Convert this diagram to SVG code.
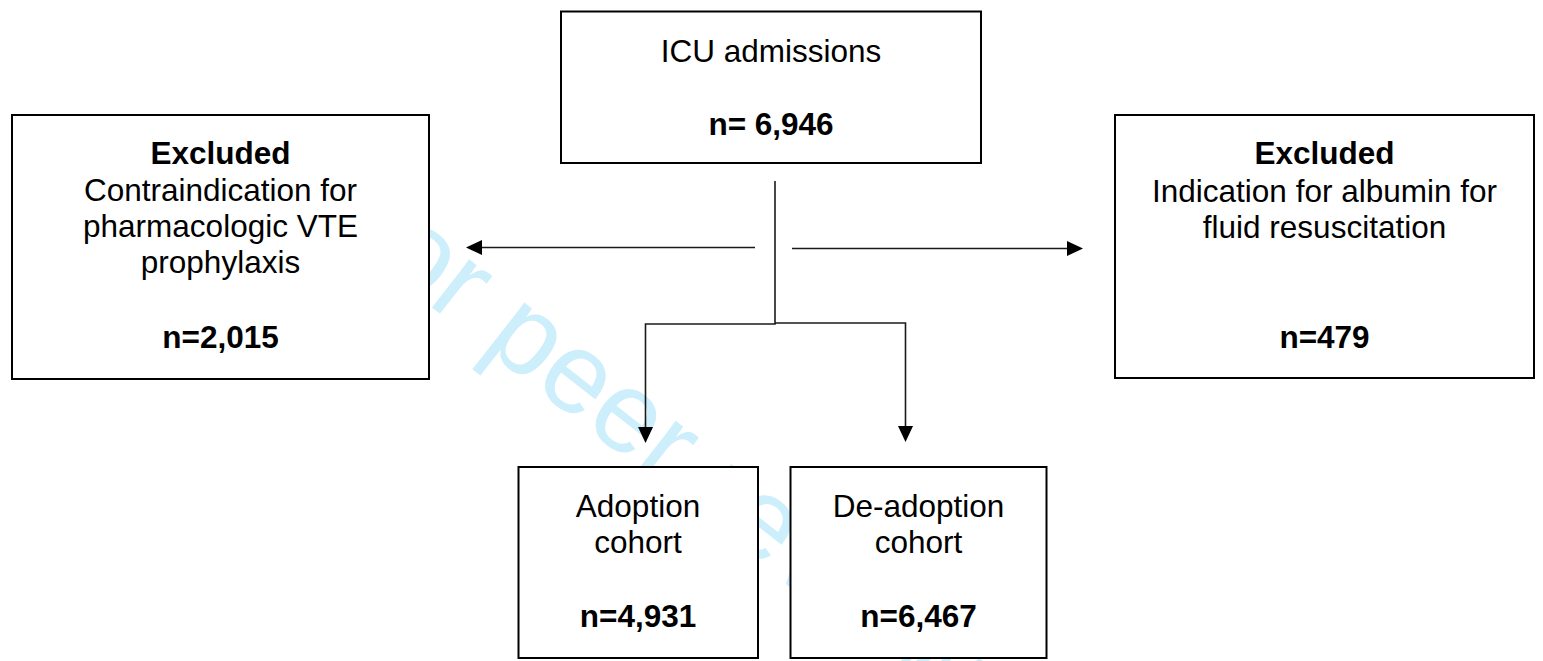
<svg xmlns="http://www.w3.org/2000/svg" width="1543" height="661" viewBox="0 0 1543 661">
  <defs>
    <style>
      .box { fill: #ffffff; stroke: #000000; stroke-width: 2; }
      .t { font-family: "Liberation Sans", Arial, sans-serif; font-size: 31.5px; fill: #000000; text-anchor: middle; }
      .b { font-weight: bold; }
      .link { fill: none; stroke: #1a1a1a; stroke-width: 1.6; }
      .wm { font-family: "Liberation Sans", Arial, sans-serif; font-size: 115px; fill: #cdeefb; }
    </style>
    <marker id="head" markerUnits="userSpaceOnUse" markerWidth="16" markerHeight="15" refX="8" refY="7.5" orient="auto">
      <path d="M0,0 L16,7.5 L0,15 Z" fill="#000000"/>
    </marker>
  </defs>

  <rect width="1543" height="661" fill="#ffffff"/>

  <!-- background watermark, sits under the white box fills -->
  <text class="wm" x="320" y="220" transform="rotate(38 320 220)">For peer review</text>

  <!-- connectors -->
  <g id="connectors">
    <path class="link" d="M775,181 V324"/>
    <path class="link" d="M775.8,324 H645.5 V435" marker-end="url(#head)"/>
    <path class="link" d="M775,323 H905.5 V434" marker-end="url(#head)"/>
    <path class="link" d="M755,247.5 H474" marker-end="url(#head)"/>
    <path class="link" d="M792,248.5 H1075" marker-end="url(#head)"/>
  </g>

  <!-- ICU admissions -->
  <g id="node-icu">
    <rect class="box" x="561" y="11.5" width="420" height="151.5"/>
    <text class="t" x="771" y="62">ICU admissions</text>
    <text class="t b" x="771" y="135">n= 6,946</text>
  </g>

  <!-- excluded: VTE prophylaxis contraindication -->
  <g id="node-excluded-vte">
    <rect class="box" x="12" y="115" width="417" height="264"/>
    <text class="t b" x="220.5" y="164">Excluded</text>
    <text class="t" x="220.5" y="201">Contraindication for</text>
    <text class="t" x="220.5" y="237">pharmacologic VTE</text>
    <text class="t" x="220.5" y="273">prophylaxis</text>
    <text class="t b" x="220.5" y="348">n=2,015</text>
  </g>

  <!-- excluded: albumin indication -->
  <g id="node-excluded-albumin">
    <rect class="box" x="1115" y="115" width="419" height="263"/>
    <text class="t b" x="1324.5" y="164">Excluded</text>
    <text class="t" x="1324.5" y="202">Indication for albumin for</text>
    <text class="t" x="1324.5" y="238">fluid resuscitation</text>
    <text class="t b" x="1324.5" y="348">n=479</text>
  </g>

  <!-- adoption cohort -->
  <g id="node-adoption">
    <rect class="box" x="518.5" y="467" width="239.5" height="191"/>
    <text class="t" x="638" y="517">Adoption</text>
    <text class="t" x="638" y="553">cohort</text>
    <text class="t b" x="638" y="627">n=4,931</text>
  </g>

  <!-- de-adoption cohort -->
  <g id="node-deadoption">
    <rect class="box" x="790.5" y="467" width="256" height="191"/>
    <text class="t" x="918.5" y="517">De-adoption</text>
    <text class="t" x="918.5" y="553">cohort</text>
    <text class="t b" x="918.5" y="627">n=6,467</text>
  </g>
</svg>
